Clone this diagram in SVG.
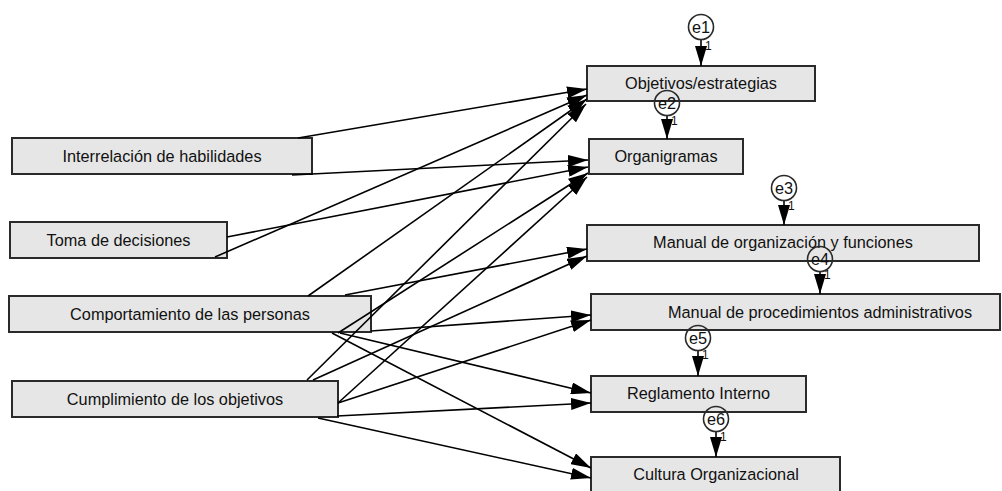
<svg xmlns="http://www.w3.org/2000/svg" width="1002" height="491" viewBox="0 0 1002 491">
  <defs>
    <marker id="arrow" markerUnits="userSpaceOnUse" markerWidth="20" markerHeight="12" refX="20" refY="6" orient="auto">
      <path d="M0,0 L20,6 L0,12 Z" fill="#000"/>
    </marker>
  </defs>
  <style>
    .box { fill: #e6e6e6; stroke: #2a2a2a; stroke-width: 2; }
    .err { fill: none; stroke: #2a2a2a; stroke-width: 1.6; }
    .lbl { font-family: "Liberation Sans", Arial, sans-serif; font-size: 16.3px; fill: #111; text-anchor: middle; }
    .one { font-family: "Liberation Sans", Arial, sans-serif; font-size: 12px; fill: #111; }
    .edge { stroke: #000; stroke-width: 1.6; fill: none; marker-end: url(#arrow); }
  </style>
  <rect width="1002" height="491" fill="#fff"/>

  <!-- observed exogenous variables -->
  <g id="interrelacion">
    <rect class="box" x="12" y="138" width="300" height="36"/>
    <text class="lbl" x="162" y="162">Interrelación de habilidades</text>
  </g>
  <g id="toma">
    <rect class="box" x="10" y="222" width="217" height="36"/>
    <text class="lbl" x="118.5" y="246">Toma de decisiones</text>
  </g>
  <g id="comportamiento">
    <rect class="box" x="9" y="296" width="362" height="36"/>
    <text class="lbl" x="190" y="320">Comportamiento de las personas</text>
  </g>
  <g id="cumplimiento">
    <rect class="box" x="12" y="381" width="326" height="36"/>
    <text class="lbl" x="175" y="405">Cumplimiento de los objetivos</text>
  </g>

  <!-- observed endogenous variables -->
  <g id="objetivos">
    <rect class="box" x="587" y="66" width="228" height="35"/>
    <text class="lbl" x="701" y="89">Objetivos/estrategias</text>
  </g>
  <g id="organigramas">
    <rect class="box" x="589" y="139" width="154" height="35"/>
    <text class="lbl" x="666" y="162">Organigramas</text>
  </g>
  <g id="manual-org">
    <rect class="box" x="587" y="225" width="392" height="36"/>
    <text class="lbl" x="783" y="248">Manual de organización y funciones</text>
  </g>
  <g id="manual-proc">
    <rect class="box" x="591" y="294" width="409" height="36"/>
    <text class="lbl" x="820" y="318">Manual de procedimientos administrativos</text>
  </g>
  <g id="reglamento">
    <rect class="box" x="591" y="376" width="215" height="36"/>
    <text class="lbl" x="698.5" y="399">Reglamento Interno</text>
  </g>
  <g id="cultura">
    <rect class="box" x="591" y="457" width="249" height="37"/>
    <text class="lbl" x="716" y="480">Cultura Organizacional</text>
  </g>

  <!-- regression paths and error paths, drawn over the boxes -->
  <g id="connectors">
    <line class="edge" x1="298" y1="138" x2="587" y2="89"/>
    <line class="edge" x1="292" y1="175" x2="588" y2="160"/>
    <line class="edge" x1="227" y1="237" x2="588" y2="167"/>
    <line class="edge" x1="215" y1="257" x2="587" y2="95"/>
    <line class="edge" x1="308" y1="296" x2="587" y2="99"/>
    <line class="edge" x1="307" y1="380" x2="586" y2="104"/>
    <line class="edge" x1="338" y1="333" x2="588" y2="173"/>
    <line class="edge" x1="338" y1="403" x2="587" y2="177"/>
    <line class="edge" x1="345" y1="295" x2="587" y2="249"/>
    <line class="edge" x1="313" y1="380" x2="587" y2="256"/>
    <line class="edge" x1="371" y1="331" x2="591" y2="315"/>
    <line class="edge" x1="338" y1="403" x2="591" y2="320"/>
    <line class="edge" x1="340" y1="333" x2="591" y2="393"/>
    <line class="edge" x1="337" y1="416" x2="591" y2="403"/>
    <line class="edge" x1="332" y1="333" x2="591" y2="468"/>
    <line class="edge" x1="318" y1="418" x2="591" y2="478"/>

    <line class="edge" x1="701" y1="40" x2="701" y2="66"/>
    <line class="edge" x1="667" y1="116" x2="667" y2="139"/>
    <line class="edge" x1="784" y1="201" x2="784" y2="225"/>
    <line class="edge" x1="820" y1="272" x2="820" y2="294"/>
    <line class="edge" x1="698" y1="351" x2="698" y2="376"/>
    <line class="edge" x1="716" y1="432" x2="716" y2="457"/>
  </g>

  <!-- error terms -->
  <g id="e1">
    <circle class="err" cx="701" cy="27" r="12.5"/>
    <text class="lbl" x="701" y="33">e1</text>
    <text class="one" x="705" y="50">1</text>
  </g>
  <g id="e2">
    <circle class="err" cx="667" cy="103" r="12.5"/>
    <text class="lbl" x="667" y="109">e2</text>
    <text class="one" x="671" y="125">1</text>
  </g>
  <g id="e3">
    <circle class="err" cx="784" cy="188" r="12.5"/>
    <text class="lbl" x="784" y="194">e3</text>
    <text class="one" x="788" y="210">1</text>
  </g>
  <g id="e4">
    <circle class="err" cx="820" cy="259" r="12.5"/>
    <text class="lbl" x="820" y="265">e4</text>
    <text class="one" x="824" y="279">1</text>
  </g>
  <g id="e5">
    <circle class="err" cx="698" cy="338" r="12.5"/>
    <text class="lbl" x="698" y="344">e5</text>
    <text class="one" x="702" y="359">1</text>
  </g>
  <g id="e6">
    <circle class="err" cx="716" cy="419" r="12.5"/>
    <text class="lbl" x="716" y="425">e6</text>
    <text class="one" x="720" y="441">1</text>
  </g>
</svg>
